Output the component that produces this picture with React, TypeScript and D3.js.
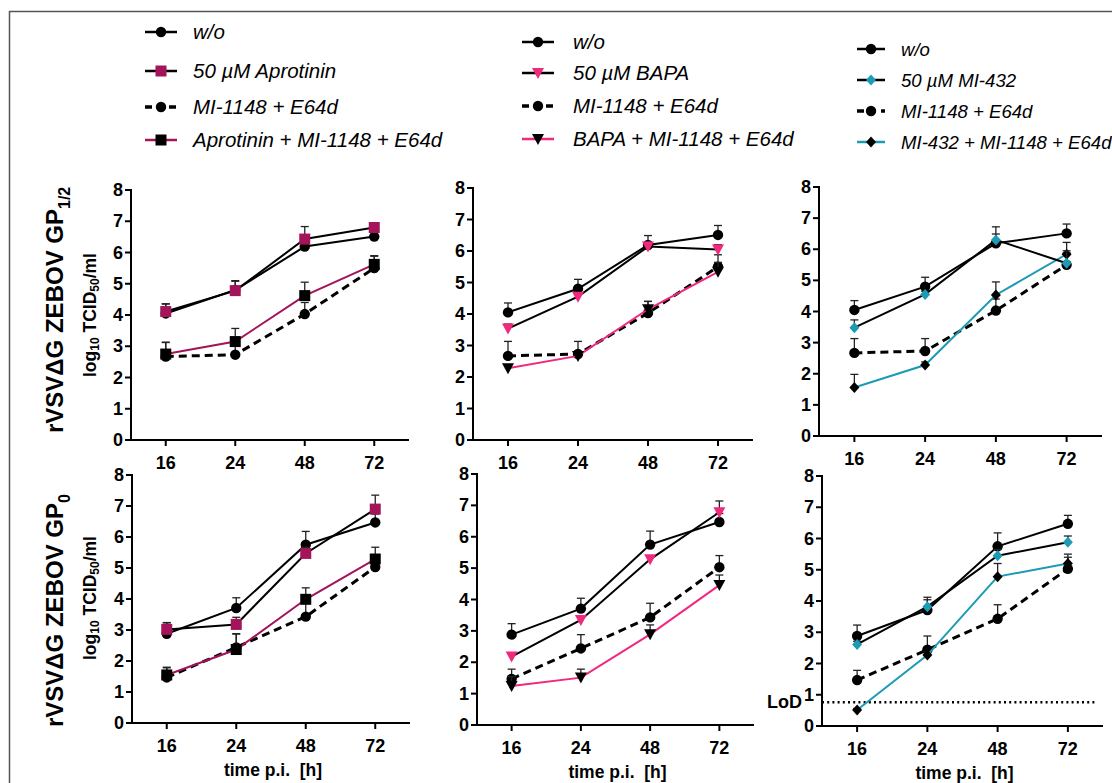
import React from 'react';
import * as d3 from 'd3';

const timepoints = ['16', '24', '48', '72'];
const yTicks = [0, 1, 2, 3, 4, 5, 6, 7, 8];

// rVSVdG ZEBOV GP1/2 (top row), means and upper SD
const gp12Wo = [4.05, 4.8, 6.19, 6.51];
const gp12WoSd = [0.3, 0.3, 0.3, 0.3];
const gp12Mi = [2.67, 2.73, 4.03, 5.5];
const gp12MiSd = [0.46, 0.4, 0.37, 0.38];
const gp12Apr = [4.11, 4.78, 6.43, 6.8];
const gp12AprSd = [0.25, 0.3, 0.4, 0.05];
const gp12AprMi = [2.75, 3.15, 4.62, 5.62];
const gp12AprMiSd = [0.37, 0.42, 0.43, 0.28];
const gp12Bapa = [3.54, 4.55, 6.14, 6.05];
const gp12BapaSd = [0.14, 0.1, 0.15, 0.15];
const gp12BapaMi = [2.28, 2.67, 4.15, 5.34];
const gp12BapaMiSd = [0.1, 0.1, 0.25, 0.3];
const gp12Mi432 = [3.48, 4.55, 6.3, 5.55];
const gp12Mi432Sd = [0.25, 0.1, 0.42, 0.4];
const gp12Mi432Mi = [1.56, 2.28, 4.53, 5.84];
const gp12Mi432MiSd = [0.42, 0.1, 0.42, 0.38];

// rVSVdG ZEBOV GP0 (bottom row)
const gp0Wo = [2.88, 3.71, 5.75, 6.47];
const gp0WoSd = [0.35, 0.33, 0.43, 0.27];
const gp0Mi = [1.47, 2.44, 3.43, 5.03];
const gp0MiSd = [0.31, 0.44, 0.45, 0.37];
const gp0Apr = [3.02, 3.18, 5.47, 6.9];
const gp0AprSd = [0.22, 0.23, 0.2, 0.45];
const gp0AprMi = [1.55, 2.37, 3.99, 5.29];
const gp0AprMiSd = [0.25, 0.5, 0.37, 0.38];
const gp0Bapa = [2.18, 3.35, 5.28, 6.78];
const gp0BapaSd = [0.1, 0.1, 0.1, 0.36];
const gp0BapaMi = [1.24, 1.51, 2.89, 4.46];
const gp0BapaMiSd = [0.3, 0.27, 0.3, 0.32];
const gp0Mi432 = [2.61, 3.82, 5.45, 5.88];
const gp0Mi432Sd = [0.1, 0.3, 0.2, 0.2];
const gp0Mi432Mi = [0.51, 2.27, 4.78, 5.2];
const gp0Mi432MiSd = [0.05, 0.1, 0.42, 0.3];

const lod = 0.76;

const MAROON = '#a3145a';
const PINK = '#f0287e';
const TEAL = '#1c9bb4';

const NARROW = "'Liberation Sans Narrow', 'Arial Narrow', 'Liberation Sans', Arial, sans-serif";
const SANS = "'Liberation Sans', Arial, sans-serif";

const inhibitors = [
  { name: 'Aprotinin', color: MAROON, shape: 'square' },
  { name: 'BAPA', color: PINK, shape: 'tri' },
  { name: 'MI-432', color: TEAL, shape: 'diamond' },
];

const panels = [
  { x0: 131, x1: 409, yT: 190, yB: 440, inh: 0, wo: gp12Wo, woSd: gp12WoSd, mi: gp12Mi, miSd: gp12MiSd, t: gp12Apr, tSd: gp12AprSd, c: gp12AprMi, cSd: gp12AprMiSd },
  { x0: 473, x1: 753, yT: 188, yB: 440, inh: 1, wo: gp12Wo, woSd: gp12WoSd, mi: gp12Mi, miSd: gp12MiSd, t: gp12Bapa, tSd: gp12BapaSd, c: gp12BapaMi, cSd: gp12BapaMiSd },
  { x0: 819, x1: 1102, yT: 187, yB: 436, inh: 2, wo: gp12Wo, woSd: gp12WoSd, mi: gp12Mi, miSd: gp12MiSd, t: gp12Mi432, tSd: gp12Mi432Sd, c: gp12Mi432Mi, cSd: gp12Mi432MiSd },
  { x0: 132, x1: 410, yT: 475, yB: 723, inh: 0, wo: gp0Wo, woSd: gp0WoSd, mi: gp0Mi, miSd: gp0MiSd, t: gp0Apr, tSd: gp0AprSd, c: gp0AprMi, cSd: gp0AprMiSd, xlabel: true },
  { x0: 477, x1: 754, yT: 474, yB: 725, inh: 1, wo: gp0Wo, woSd: gp0WoSd, mi: gp0Mi, miSd: gp0MiSd, t: gp0Bapa, tSd: gp0BapaSd, c: gp0BapaMi, cSd: gp0BapaMiSd, xlabel: true },
  { x0: 822, x1: 1103, yT: 476, yB: 726, inh: 2, wo: gp0Wo, woSd: gp0WoSd, mi: gp0Mi, miSd: gp0MiSd, t: gp0Mi432, tSd: gp0Mi432Sd, c: gp0Mi432Mi, cSd: gp0Mi432MiSd, xlabel: true, lod: true },
];

const legends = [
  { x: 145, w: 32, tx: 193, rows: [32, 71, 107, 140], inh: 0, fs: 20.5 },
  { x: 522, w: 32, tx: 573, rows: [42, 73, 106, 139], inh: 1, fs: 20.5 },
  { x: 857, w: 28, tx: 901, rows: [49, 80, 111, 142], inh: 2, fs: 18.6 },
];

function Marker({ shape, x, y, fill }: { shape: string; x: number; y: number; fill: string }) {
  if (shape === 'circle') return <circle cx={x} cy={y} r={5.2} fill={fill} />;
  if (shape === 'square') return <rect x={x - 5.5} y={y - 5.5} width={11} height={11} fill={fill} />;
  if (shape === 'tri') return <path d={`M${x - 6},${y - 5}L${x + 6},${y - 5}L${x},${y + 6}Z`} fill={fill} />;
  return <path d={`M${x},${y - 5.5}L${x + 5},${y}L${x},${y + 5.5}L${x - 5},${y}Z`} fill={fill} />;
}

function Series({ vals, sd, x, y, lineColor, markerColor, shape, dashed }: any) {
  const line = d3.line<number>().x((_, i) => x(timepoints[i])).y(d => y(d));
  return (
    <g>
      {vals.map((v: number, i: number) => {
        const cx = x(timepoints[i]);
        const top = y(v + sd[i]);
        return (
          <g key={i} stroke="#222" strokeWidth={1.3}>
            <line x1={cx} x2={cx} y1={y(v)} y2={top} />
            <line x1={cx - 4} x2={cx + 4} y1={top} y2={top} />
          </g>
        );
      })}
      <path d={line(vals) || ''} fill="none" stroke={lineColor} strokeWidth={dashed ? 3 : 2}
        strokeDasharray={dashed ? '8,5' : undefined} />
      {vals.map((v: number, i: number) => (
        <Marker key={i} shape={shape} x={x(timepoints[i])} y={y(v)} fill={markerColor} />
      ))}
    </g>
  );
}

function Panel({ p }: any) {
  const x = d3.scalePoint<string>().domain(timepoints).range([p.x0, p.x1]).padding(0.5);
  const y = d3.scaleLinear().domain([0, 8]).range([p.yB, p.yT]);
  const inh = inhibitors[p.inh];
  return (
    <g>
      <line x1={p.x0} x2={p.x0} y1={p.yT - 1} y2={p.yB + 1} stroke="#000" strokeWidth={2} />
      <line x1={p.x0 - 1} x2={p.x1} y1={p.yB} y2={p.yB} stroke="#000" strokeWidth={2} />
      {yTicks.map(t => (
        <g key={t}>
          <line x1={p.x0 - 6} x2={p.x0} y1={y(t)} y2={y(t)} stroke="#000" strokeWidth={2} />
          <text x={p.x0 - 8} y={y(t) + 6} textAnchor="end" fontFamily={NARROW} fontWeight="bold" fontSize={18}>{t}</text>
        </g>
      ))}
      {timepoints.map(t => (
        <g key={t}>
          <line x1={x(t)} x2={x(t)} y1={p.yB} y2={p.yB + 6} stroke="#000" strokeWidth={2} />
          <text x={x(t)} y={p.yB + 29} textAnchor="middle" fontFamily={NARROW} fontWeight="bold" fontSize={18}>{t}</text>
        </g>
      ))}
      {p.xlabel && (
        <text x={(p.x0 + p.x1) / 2 + 2} y={p.yB + 53} textAnchor="middle" fontFamily={NARROW} fontWeight="bold"
          fontSize={17.5} style={{ whiteSpace: 'pre' }}>{'time p.i.  [h]'}</text>
      )}
      {p.lod && (
        <g>
          <line x1={p.x0} x2={p.x1 - 8} y1={y(lod)} y2={y(lod)} stroke="#000" strokeWidth={2.5} strokeDasharray="2,3.2" />
          <text x={p.x0 - 20} y={y(lod) + 6} textAnchor="end" fontFamily={NARROW} fontWeight="bold" fontSize={18}>LoD</text>
        </g>
      )}
      <Series vals={p.mi} sd={p.miSd} x={x} y={y} lineColor="#000" markerColor="#000" shape="circle" dashed />
      <Series vals={p.c} sd={p.cSd} x={x} y={y} lineColor={inh.color} markerColor="#000" shape={inh.shape} />
      <Series vals={p.wo} sd={p.woSd} x={x} y={y} lineColor="#000" markerColor="#000" shape="circle" />
      <Series vals={p.t} sd={p.tSd} x={x} y={y} lineColor="#000" markerColor={inh.color} shape={inh.shape} />
    </g>
  );
}

function Legend({ l }: any) {
  const inh = inhibitors[l.inh];
  const items = [
    { label: 'w/o', line: '#000', marker: '#000', shape: 'circle', dashed: false },
    { label: `50 \u00b5M ${inh.name}`, line: '#000', marker: inh.color, shape: inh.shape, dashed: false },
    { label: 'MI-1148 + E64d', line: '#000', marker: '#000', shape: 'circle', dashed: true },
    { label: `${inh.name} + MI-1148 + E64d`, line: inh.color, marker: '#000', shape: inh.shape, dashed: false },
  ];
  return (
    <g>
      {items.map((it, i) => {
        const cy = l.rows[i];
        const mx = l.x + l.w / 2;
        return (
          <g key={i}>
            <line x1={l.x} x2={l.x + l.w} y1={cy} y2={cy} stroke={it.line} strokeWidth={it.dashed ? 3.5 : 2.5}
              strokeDasharray={it.dashed ? '7,5' : undefined} />
            <Marker shape={it.shape} x={mx} y={cy} fill={it.marker} />
            <text x={l.tx} y={cy + 7} fontFamily={SANS} fontStyle="italic" fontSize={l.fs}>{it.label}</text>
          </g>
        );
      })}
    </g>
  );
}

function YTitle({ x, y }: { x: number; y: number }) {
  return (
    <text transform={`translate(${x},${y}) rotate(-90)`} fontFamily={SANS} fontWeight="bold" fontSize={17.5}>
      log<tspan fontSize={12} dy={3}>10</tspan><tspan dy={-3}> TCID</tspan><tspan fontSize={12} dy={3}>50</tspan><tspan dy={-3}>/ml</tspan>
    </text>
  );
}

export default function App() {
  return (
    <svg width={1112} height={783} style={{ position: 'absolute', left: 0, top: 0, background: '#fff' }}>
      <rect x={0} y={0} width={1112} height={783} fill="#fff" />
      <path d="M9.5,790V11.5H1120" fill="none" stroke="#555" strokeWidth={1.5} />
      {legends.map((l, i) => <Legend key={i} l={l} />)}
      {panels.map((p, i) => <Panel key={i} p={p} />)}

      <text transform="translate(63,433) rotate(-90)" fontFamily={SANS} fontWeight="bold" fontSize={24}>
        rVSV{'\u0394'}G ZEBOV GP<tspan fontSize={16} dy={7}>1/2</tspan>
      </text>
      <text transform="translate(63,727) rotate(-90)" fontFamily={SANS} fontWeight="bold" fontSize={24}>
        rVSV{'\u0394'}G ZEBOV GP<tspan fontSize={16} dy={7}>0</tspan>
      </text>

      <YTitle x={96} y={377} />
      <YTitle x={96} y={660} />
    </svg>
  );
}
